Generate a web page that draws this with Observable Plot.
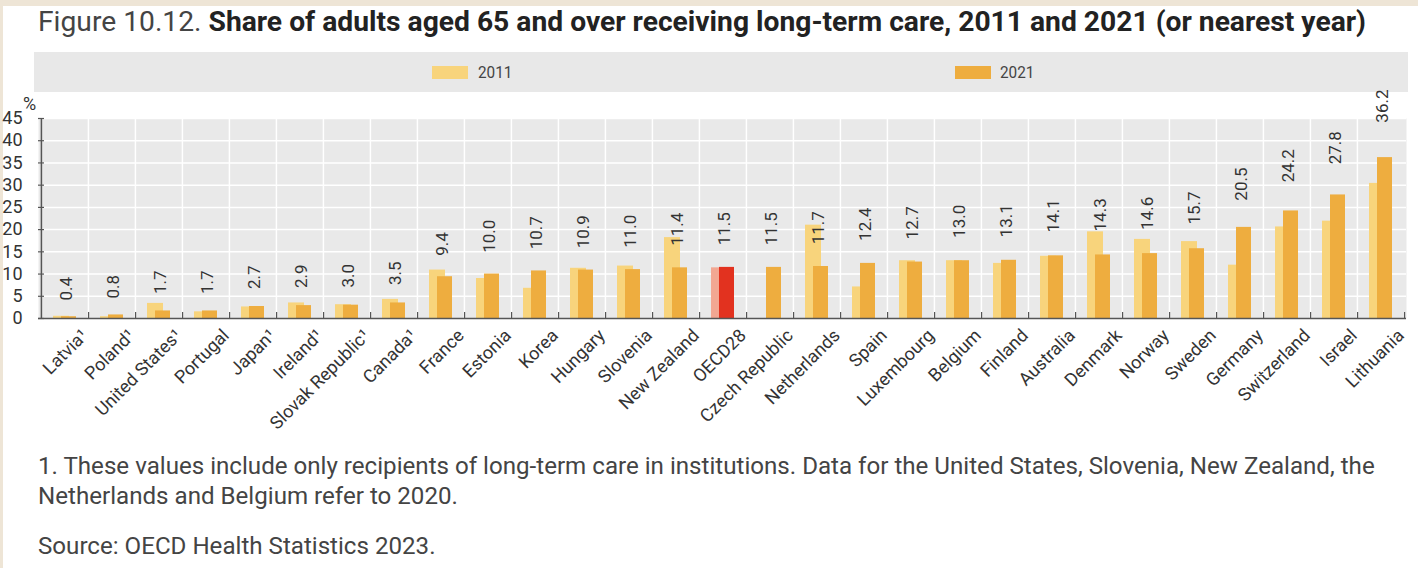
<!DOCTYPE html>
<html>
<head>
<meta charset="utf-8">
<script src="https://cdn.jsdelivr.net/npm/d3@7"></script>
<script src="https://cdn.jsdelivr.net/npm/@observablehq/plot@0.6"></script>
<style>
  html, body { margin: 0; padding: 0; }
  body { width: 1418px; height: 568px; background: #fff; position: relative; overflow: hidden; font-family: Roboto, "Liberation Sans", sans-serif; }
  .frameTop { position: absolute; left: 0; top: 0; width: 1418px; height: 6px; background: #eee5d6; }
  .frameLeft { position: absolute; left: 0; top: 0; width: 3px; height: 568px; background: #eee5d6; }
  #title { position: absolute; left: 38px; top: 7px; font-size: 28px; line-height: 30px; white-space: nowrap; color: #222; transform-origin: left center; }
  #title .lead { color: #444; font-weight: normal; }
  #title .main { font-weight: bold; }
  #legend { position: absolute; left: 34px; top: 52px; width: 1374px; height: 40px; background: #e8e8e8; }
  .sw { position: absolute; top: 14px; width: 36px; height: 13px; }
  .lt { position: absolute; top: 9px; font-size: 17px; line-height: 22px; color: #444; transform-origin: left center; transform: scaleX(0.9); }
  #pct { position: absolute; left: 23px; top: 94px; font-size: 18px; line-height: 20px; color: #333; }
  #chart { position: absolute; left: 0; top: 96px; }
  .note { position: absolute; left: 38px; font-size: 20px; line-height: 30px; color: #444; white-space: nowrap; }
</style>
</head>
<body>
<div class="frameTop"></div>
<div class="frameLeft"></div>
<div id="title"><span class="lead">Figure 10.12. </span><span class="main">Share of adults aged 65 and over receiving long-term care, 2011 and 2021 (or nearest year)</span></div>
<div id="legend"></div>
<div id="pct">%</div>
<div id="chart"></div>
<div class="note" id="note1" style="top:451px"><span id="l1">1. These values include only recipients of long-term care in institutions. Data for the United States, Slovenia, New Zealand, the</span><br>Netherlands and Belgium refer to 2020.</div>
<div class="note" id="note2" style="top:531px">Source: OECD Health Statistics 2023.</div>
<script>
const FONT = "Roboto, 'Liberation Sans', sans-serif";

// ---- data ----
const countries = ["Latvia¹", "Poland¹", "United States¹", "Portugal", "Japan¹", "Ireland¹", "Slovak Republic¹", "Canada¹", "France", "Estonia", "Korea", "Hungary", "Slovenia", "New Zealand", "OECD28", "Czech Republic", "Netherlands", "Spain", "Luxembourg", "Belgium", "Finland", "Australia", "Denmark", "Norway", "Sweden", "Germany", "Switzerland", "Israel", "Lithuania"];
const values2011 = [0.5, 0.4, 3.4, 1.5, 2.6, 3.5, 3.1, 4.3, 10.9, 9.0, 6.8, 11.3, 11.8, 18.2, 11.4, null, 21.0, 7.1, 13.0, 13.0, 12.4, 14.0, 19.5, 17.8, 17.3, 12.0, 20.6, 21.9, 30.4];
const values2021 = [0.4, 0.8, 1.7, 1.7, 2.7, 2.9, 3.0, 3.5, 9.4, 10.0, 10.7, 10.9, 11.0, 11.4, 11.5, 11.5, 11.7, 12.4, 12.7, 13.0, 13.1, 14.1, 14.3, 14.6, 15.7, 20.5, 24.2, 27.8, 36.2];
const yTicks = [0, 5, 10, 15, 20, 25, 30, 35, 40, 45];
const seriesNames = ["2011", "2021"];
const highlight = "OECD28";

const colors = { "2011": "#f8d47c", "2021": "#eead3f", "2011hl": "#f2a792", "2021hl": "#e2321f" };

const rows = countries.map((c, i) => ({ country: c, v2011: values2011[i], v2021: values2021[i] }));

// legend
const legend = document.getElementById("legend");
[[seriesNames[0], 398, 444], [seriesNames[1], 921, 966]].forEach(([name, sx, tx]) => {
  const sw = document.createElement("div");
  sw.className = "sw"; sw.style.left = sx + "px"; sw.style.background = colors[name];
  const t = document.createElement("div");
  t.className = "lt"; t.style.left = tx + "px"; t.textContent = name;
  legend.appendChild(sw); legend.appendChild(t);
});

const W = 1418, ML = 38, MR = 12, MT = 22, MB = 122, PH = 200;
const bw = (W - ML - MR) / countries.length;

const chart = Plot.plot({
  width: W,
  height: MT + PH + MB,
  marginLeft: ML, marginRight: MR, marginTop: MT, marginBottom: MB,
  style: { background: "transparent", fontFamily: FONT, overflow: "visible" },
  x: { domain: countries, padding: 0 },
  y: { domain: [0, 45] },
  color: { type: "identity" },
  marks: [
    Plot.frame({ fill: "#e9e9e9", stroke: null }),
    Plot.gridY(yTicks.slice(1), { stroke: "white", strokeOpacity: 1, strokeWidth: 1.5 }),
    Plot.tickX(countries.slice(1), { x: d => d, dx: -bw / 2, stroke: "white", strokeWidth: 1.5 }),
    Plot.barY(rows.filter(d => d.v2011 != null), { x: "country", y: "v2011", fill: d => d.country === highlight ? colors["2011hl"] : colors["2011"], insetLeft: 12, insetRight: 19 }),
    Plot.barY(rows, { x: "country", y: "v2021", fill: d => d.country === highlight ? colors["2021hl"] : colors["2021"], insetLeft: 20, insetRight: 12 }),
    Plot.ruleY([0], { stroke: "#555", strokeWidth: 1.5 }),
    Plot.tickX([countries[0]], { x: d => d, dx: -bw / 2, stroke: "#555", strokeWidth: 1.5 }),
    Plot.tickY(yTicks, { y: d => d, insetRight: W - ML - MR - 6, stroke: "#555", strokeWidth: 1.2 }),
    Plot.tickX(countries, { x: d => d, dx: bw / 2, insetTop: PH - 6, stroke: "#555", strokeWidth: 1.2 }),
    Plot.axisY(yTicks, { tickSize: 0, tickPadding: 16, fontSize: 18, fill: "#333", label: null }),
    Plot.axisX({ tickSize: 0, tickRotate: -45, tickPadding: 14, dx: 20, fontSize: 18, fill: "#333", label: null }),
    // value labels: the source chart sets them slightly further above taller bars
    Plot.text(rows, { x: "country", y: d => 3.6 + 1.118 * d.v2021, text: d => d.v2021.toFixed(1), rotate: -90, textAnchor: "start", dx: 2, fontSize: 17, fill: "#333" })
  ]
});
document.getElementById("chart").appendChild(chart);

// fit title and notes to the reference line widths
function fitScale(el, target) {
  const w = el.getBoundingClientRect().width;
  if (w > 0) el.style.transform = `scaleX(${target / w})`;
}
function fitFont(el, measureEl, target) {
  const w = measureEl.getBoundingClientRect().width;
  const fs = parseFloat(getComputedStyle(el).fontSize);
  if (w > 0) el.style.fontSize = (fs * target / w) + "px";
}
function layout() {
  fitScale(document.getElementById("title"), 1328);
  const n1 = document.getElementById("note1");
  const n2 = document.getElementById("note2");
  fitFont(n1, document.getElementById("l1"), 1338);
  n2.style.fontSize = n1.style.fontSize;
}
layout();
if (document.fonts && document.fonts.ready) document.fonts.ready.then(() => { document.getElementById("title").style.transform = ""; document.getElementById("note1").style.fontSize = "20px"; layout(); });
</script>
</body>
</html>
